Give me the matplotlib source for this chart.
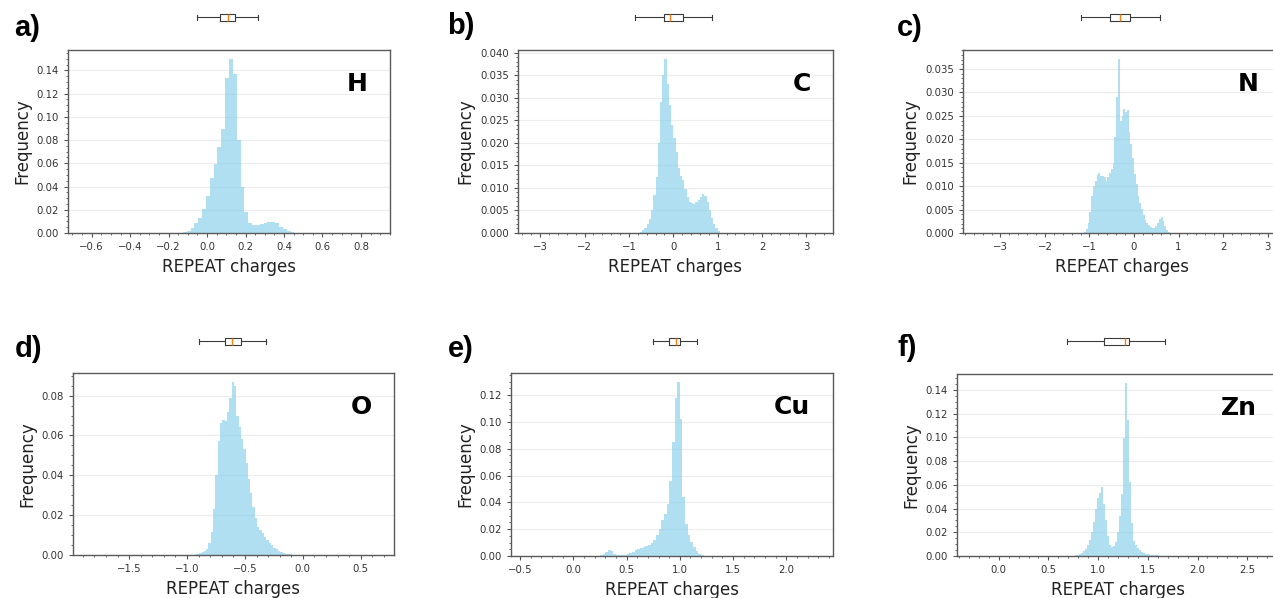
import numpy as np
import matplotlib.pyplot as plt

# panel tags and element symbols
tags = ["a)", "b)", "c)", "d)", "e)", "f)"]
elements = ["H", "C", "N", "O", "Cu", "Zn"]

# normalised histograms: first bin edge, bin width, bar heights
h_start, h_width = -0.146, 0.02
h_freq = [0.0003, 0.001, 0.002, 0.0046, 0.0086, 0.013, 0.021, 0.032, 0.0475, 0.059,
          0.074, 0.0896, 0.133, 0.150, 0.137, 0.080, 0.040, 0.018, 0.0086, 0.0068,
          0.0071, 0.0075, 0.0085, 0.0094, 0.0097, 0.0082, 0.0055, 0.0032, 0.0014, 0.0005,
          0.0002]

c_start, c_width = -0.75, 0.05
c_freq = [0.0002, 0.0006, 0.0012, 0.0020, 0.0032, 0.0050, 0.0085, 0.0125, 0.0200, 0.0290,
          0.0350, 0.0387, 0.0330, 0.0285, 0.0240, 0.0210, 0.0180, 0.0145, 0.0126, 0.0118,
          0.0098, 0.0080, 0.0068, 0.0066, 0.0064, 0.0068, 0.0073, 0.0080, 0.0087, 0.0082,
          0.0068, 0.0050, 0.0034, 0.0020, 0.0010, 0.0004, 0.0001]

n_start, n_width = -1.16, 0.04
n_freq = [0.0001, 0.0003, 0.0008, 0.0022, 0.0045, 0.0078, 0.0100, 0.0112, 0.0124, 0.0128,
          0.0121, 0.0122, 0.0119, 0.0112, 0.0120, 0.0127, 0.0136, 0.0150, 0.0205, 0.0290,
          0.0372, 0.0240, 0.0250, 0.0265, 0.0258, 0.0262, 0.0215, 0.0190, 0.0160, 0.0125,
          0.0105, 0.0080, 0.0065, 0.0052, 0.0038, 0.0028, 0.0021, 0.0017, 0.0013, 0.0010,
          0.0011, 0.0015, 0.0021, 0.0029, 0.0034, 0.0026, 0.0015, 0.0006, 0.0002]

o_start, o_width = -0.935, 0.02
o_freq = [0.0004, 0.0006, 0.0009, 0.0013, 0.0020, 0.0032, 0.0060, 0.0115, 0.0230, 0.0400,
          0.0570, 0.0665, 0.0680, 0.0675, 0.0720, 0.0790, 0.0870, 0.0850, 0.0700, 0.0640,
          0.0580, 0.0530, 0.0460, 0.0380, 0.0310, 0.0240, 0.0185, 0.0140, 0.0125, 0.0110,
          0.0090, 0.0074, 0.0060, 0.0048, 0.0037, 0.0028, 0.0020, 0.0014, 0.0010, 0.0007,
          0.0005, 0.0003, 0.0002, 0.0002, 0.0001, 0.0001]

cu_start, cu_width = 0.25, 0.025
cu_freq = [0.0004, 0.0012, 0.0030, 0.0046, 0.0036, 0.0018, 0.0010, 0.0007, 0.0006, 0.0008,
           0.0014, 0.0022, 0.0032, 0.0042, 0.0050, 0.0057, 0.0064, 0.0072, 0.0082, 0.0098,
           0.0122, 0.0155, 0.0200, 0.0265, 0.0310, 0.0390, 0.0560, 0.0850, 0.1180, 0.1300,
           0.1020, 0.0440, 0.0240, 0.0160, 0.0105, 0.0065, 0.0035, 0.0015, 0.0006, 0.0002]

zn_start, zn_width = 0.77, 0.02
zn_freq = [0.0008, 0.0012, 0.0018, 0.0026, 0.0040, 0.0060, 0.0090, 0.0135, 0.0205, 0.0290,
           0.0400, 0.0490, 0.0530, 0.0578, 0.0440, 0.0300, 0.0170, 0.0090, 0.0074, 0.0084,
           0.0120, 0.0200, 0.0340, 0.0520, 0.0996, 0.1460, 0.1145, 0.0626, 0.0280, 0.0125,
           0.0090, 0.0065, 0.0048, 0.0035, 0.0026, 0.0020, 0.0015, 0.0012, 0.0010, 0.0010,
           0.0012, 0.0010, 0.0004]

# box plot strip above each panel: whislo, q1, median, q3, whishi
h_box = [-0.05, 0.065, 0.109, 0.146, 0.265]
c_box = [-0.87, -0.21, -0.07, 0.23, 0.87]
n_box = [-1.20, -0.54, -0.31, -0.08, 0.58]
o_box = [-0.894, -0.672, -0.609, -0.532, -0.319]
cu_box = [0.75, 0.90, 0.963, 1.003, 1.157]
zn_box = [0.69, 1.06, 1.271, 1.309, 1.676]

# x range shown in each panel
h_xlim = (-0.723, 0.951)
c_xlim = (-3.5, 3.6)
n_xlim = (-3.84, 3.3)
o_xlim = (-1.985, 0.787)
cu_xlim = (-0.584, 2.437)
zn_xlim = (-0.42, 2.82)

panels = [
    (h_start, h_width, h_freq, h_box, h_xlim),
    (c_start, c_width, c_freq, c_box, c_xlim),
    (n_start, n_width, n_freq, n_box, n_xlim),
    (o_start, o_width, o_freq, o_box, o_xlim),
    (cu_start, cu_width, cu_freq, cu_box, cu_xlim),
    (zn_start, zn_width, zn_freq, zn_box, zn_xlim),
]

W, H = 1273, 598
fig = plt.figure(figsize=(W / 100, H / 100), dpi=100)

# pixel layout (left, top, right, bottom)
boxes = [(68, 50, 390, 233), (518, 50, 833, 233), (963, 50, 1281, 233),
         (73, 373, 394, 555), (511, 373, 833, 556), (957, 374, 1279, 556)]
strip_y = [17, 17, 17, 341, 341, 341]
tag_xy = [(14.5, 28.5), (447, 26), (897, 27.5), (14.5, 349), (448, 349), (897, 348)]


def frac(l, t, r, b):
    return [l / W, 1 - b / H, (r - l) / W, (b - t) / H]


for i, (start, width, freq, stats, xlim) in enumerate(panels):
    l, t, r, b = boxes[i]
    ax = fig.add_axes(frac(l, t, r, b))
    edges = start + width * np.arange(len(freq) + 1)
    ax.stairs(freq, edges, fill=True, color="skyblue", alpha=0.65, lw=0)
    ax.set_xlim(xlim)
    ax.set_ylim(bottom=0)
    ax.set_axisbelow(True)
    ax.yaxis.grid(True, color="#ececec", lw=0.8)
    ax.minorticks_on()
    for s in ax.spines.values():
        s.set_color("#5a5a5a")
        s.set_linewidth(1.0)
    ax.tick_params(which="both", colors="#555555", labelcolor="#333333", labelsize=7.3)
    ax.tick_params(which="major", length=3, width=0.8)
    ax.tick_params(which="minor", length=1.6, width=0.6)
    ax.set_xlabel("REPEAT charges", fontsize=12, color="#222222")
    ax.set_ylabel("Frequency", fontsize=12, color="#222222")
    ax.text(0.93, 0.775, elements[i], transform=ax.transAxes, ha="right",
            va="baseline", fontsize=18, fontweight="bold")

    # box plot strip sharing the histogram's x scale
    y = strip_y[i]
    bx = fig.add_axes(frac(l, y - 10, r, y + 10))
    st = dict(whislo=stats[0], q1=stats[1], med=stats[2], q3=stats[3],
              whishi=stats[4], fliers=[])
    line = dict(color="#3a3a3a", lw=0.8)
    bx.bxp([st], orientation="horizontal", widths=0.35, capwidths=0.25,
           showfliers=False, boxprops=line, whiskerprops=line, capprops=line,
           medianprops=dict(color="C1", lw=1.0))
    bx.set_xlim(xlim)
    bx.set_ylim(0.5, 1.5)
    bx.axis("off")

    tx, ty = tag_xy[i]
    fig.text(tx / W, 1 - ty / H, tags[i], fontsize=21, fontweight="bold",
             family="Liberation Sans", ha="left", va="center")

fig.savefig("out.png", dpi=100)
